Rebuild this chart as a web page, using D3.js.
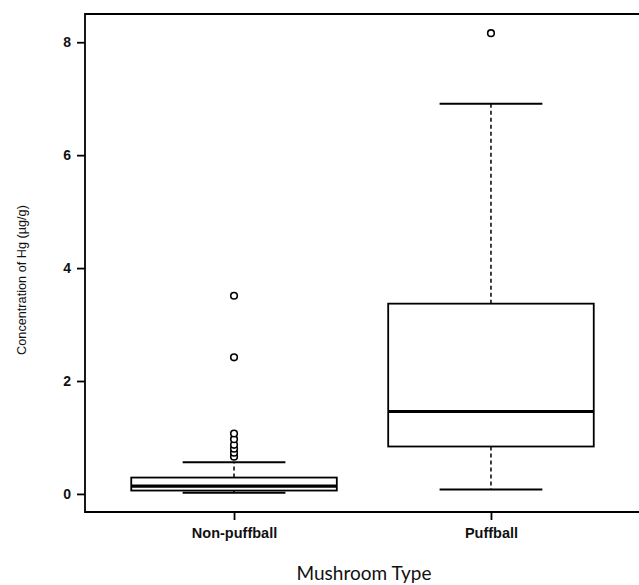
<!DOCTYPE html>
<html>
<head>
<meta charset="utf-8">
<script src="https://cdn.jsdelivr.net/npm/d3@7"></script>
<style>
  body { margin: 0; background: #fff; }
  text { font-family: "Liberation Sans", Arial, sans-serif; fill: #111; }
</style>
</head>
<body>
<div id="chart"></div>
<script>
// values
var categories = ["Non-puffball", "Puffball"];
var lowerWhisker = [0.02, 0.08];
var q1 = [0.06, 0.84];
var median = [0.14, 1.46];
var q3 = [0.29, 3.37];
var upperWhisker = [0.56, 6.91];
var outliers = [
  [0.66, 0.73, 0.80, 0.87, 0.97, 1.07, 2.42, 3.51],
  [8.16]
];
var yTicks = [0, 2, 4, 6, 8];

var W = 639, H = 585;
var margin = {top: 14, right: 0, bottom: 73, left: 85};

var svg = d3.select("#chart").append("svg")
  .attr("width", W)
  .attr("height", H);

// R style: boxes at 1..n, axis padded 4%
var xScale = d3.scaleLinear().domain([0.42, 2.58]).range([margin.left, 640]);
var yScale = d3.scaleLinear().domain([-0.32, 8.5]).range([H - margin.bottom, margin.top]);

var boxW = 0.8, capW = 0.4;

var boxes = svg.append("g").selectAll("g")
  .data(categories)
  .enter().append("g");

// dashed whiskers
boxes.append("line")
  .attr("x1", function(d, i){ return xScale(i + 1); })
  .attr("x2", function(d, i){ return xScale(i + 1); })
  .attr("y1", function(d, i){ return yScale(q3[i]); })
  .attr("y2", function(d, i){ return yScale(upperWhisker[i]); })
  .attr("stroke", "#000").attr("stroke-width", 1.5).attr("stroke-dasharray", "4,3");
boxes.append("line")
  .attr("x1", function(d, i){ return xScale(i + 1); })
  .attr("x2", function(d, i){ return xScale(i + 1); })
  .attr("y1", function(d, i){ return yScale(q1[i]); })
  .attr("y2", function(d, i){ return yScale(lowerWhisker[i]); })
  .attr("stroke", "#000").attr("stroke-width", 1.5).attr("stroke-dasharray", "4,3");

// whisker caps
[upperWhisker, lowerWhisker].forEach(function(arr){
  boxes.append("line")
    .attr("x1", function(d, i){ return xScale(i + 1 - capW / 2); })
    .attr("x2", function(d, i){ return xScale(i + 1 + capW / 2); })
    .attr("y1", function(d, i){ return yScale(arr[i]); })
    .attr("y2", function(d, i){ return yScale(arr[i]); })
    .attr("stroke", "#000").attr("stroke-width", 2);
});

// box
boxes.append("rect")
  .attr("x", function(d, i){ return xScale(i + 1 - boxW / 2); })
  .attr("width", function(d, i){ return xScale(i + 1 + boxW / 2) - xScale(i + 1 - boxW / 2); })
  .attr("y", function(d, i){ return yScale(q3[i]); })
  .attr("height", function(d, i){ return yScale(q1[i]) - yScale(q3[i]); })
  .attr("fill", "#fff").attr("stroke", "#000").attr("stroke-width", 1.8);

// median
boxes.append("line")
  .attr("x1", function(d, i){ return xScale(i + 1 - boxW / 2); })
  .attr("x2", function(d, i){ return xScale(i + 1 + boxW / 2); })
  .attr("y1", function(d, i){ return yScale(median[i]); })
  .attr("y2", function(d, i){ return yScale(median[i]); })
  .attr("stroke", "#000").attr("stroke-width", 3.2);

// outliers
boxes.each(function(d, i){
  d3.select(this).selectAll("circle")
    .data(outliers[i])
    .enter().append("circle")
    .attr("cx", xScale(i + 1))
    .attr("cy", function(v){ return yScale(v); })
    .attr("r", 3.3)
    .attr("fill", "#fff").attr("stroke", "#000").attr("stroke-width", 1.6);
});

// frame: left, top, bottom (right edge is cut off)
var x0 = margin.left, x1 = W + 1, y0 = margin.top, y1 = H - margin.bottom;
svg.append("path")
  .attr("d", "M" + x1 + "," + y0 + "H" + x0 + "V" + y1 + "H" + x1)
  .attr("fill", "none").attr("stroke", "#000").attr("stroke-width", 1.8);

// y axis
var yAxis = d3.axisLeft(yScale).tickValues(yTicks).tickSize(8).tickPadding(6);
var yAxisGroup = svg.append("g")
  .attr("transform", "translate(" + margin.left + ",0)")
  .call(yAxis);
yAxisGroup.select(".domain").remove();
yAxisGroup.selectAll(".tick line").attr("stroke", "#000").attr("stroke-width", 1.8);
yAxisGroup.selectAll(".tick text")
  .attr("font-size", "14px").attr("font-weight", "bold")
  .style("font-family", "'Liberation Sans', Arial, sans-serif");

// x axis
var xAxis = d3.axisBottom(xScale).tickValues([1, 2])
  .tickFormat(function(d){ return categories[d - 1]; })
  .tickSize(8).tickPadding(8);
var xAxisGroup = svg.append("g")
  .attr("transform", "translate(0," + y1 + ")")
  .call(xAxis);
xAxisGroup.select(".domain").remove();
xAxisGroup.selectAll(".tick line").attr("stroke", "#000").attr("stroke-width", 1.8);
xAxisGroup.selectAll(".tick text")
  .attr("font-size", "14.5px").attr("font-weight", "bold")
  .style("font-family", "'Liberation Sans', Arial, sans-serif");

// titles
svg.append("text")
  .attr("transform", "translate(26," + ((y0 + y1) / 2 + 17) + ") rotate(-90)")
  .attr("text-anchor", "middle")
  .attr("font-size", "12.7px")
  .text("Concentration of Hg (µg/g)");

svg.append("text")
  .attr("x", 364).attr("y", 580)
  .attr("text-anchor", "middle")
  .attr("font-size", "19px")
  .style("font-family", "Lato, 'Open Sans', sans-serif")
  .text("Mushroom Type");
</script>
</body>
</html>
